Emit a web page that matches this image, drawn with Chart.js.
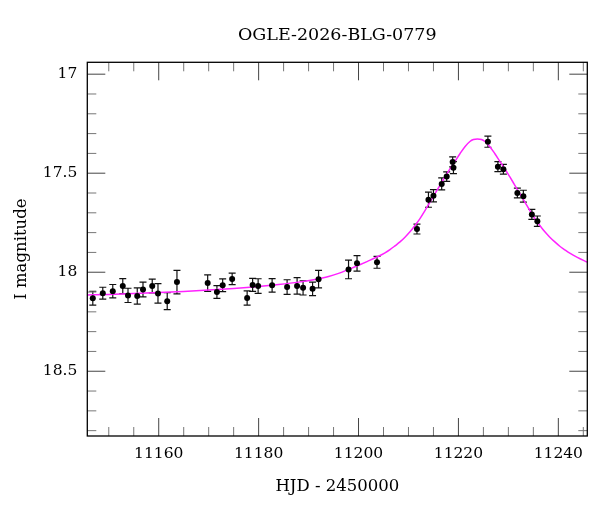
<!DOCTYPE html>
<html>
<head>
<meta charset="utf-8">
<script src="https://cdn.jsdelivr.net/npm/chart.js@4.4.1/dist/chart.umd.min.js"></script>
<style>
  html, body { margin: 0; padding: 0; background: #ffffff; }
  #wrap { width: 600px; height: 512px; }
</style>
</head>
<body>
<div id="wrap"><canvas id="c" width="600" height="512"></canvas></div>
<script>
// ---- Data ----
const titleText = "OGLE-2026-BLG-0779";
const xTitle = "HJD - 2450000";
const yTitle = "I magnitude";

const hjd = [11146.8, 11148.8, 11150.8, 11152.8, 11153.85, 11155.7, 11156.85, 11158.7, 11159.85, 11161.7,
             11163.65, 11169.8, 11171.65, 11172.8, 11174.7, 11177.7, 11178.8, 11179.9, 11182.7, 11185.7,
             11187.7, 11188.9, 11190.8, 11192.0, 11198.0, 11199.7, 11203.7, 11211.7, 11214.0, 11215.0,
             11216.65, 11217.65, 11218.85, 11219.0, 11225.9, 11227.9, 11229.0, 11231.8, 11233.0, 11234.7,
             11235.8];
const mag = [18.131, 18.106, 18.096, 18.070, 18.117, 18.120, 18.087, 18.070, 18.107, 18.146,
             18.050, 18.055, 18.100, 18.066, 18.034, 18.130, 18.064, 18.070, 18.066, 18.075,
             18.069, 18.079, 18.084, 18.035, 17.986, 17.955, 17.950, 17.782, 17.634, 17.614,
             17.554, 17.517, 17.443, 17.472, 17.341, 17.467, 17.480, 17.600, 17.616, 17.708,
             17.742];
const magErr = [0.035, 0.030, 0.034, 0.038, 0.036, 0.041, 0.037, 0.035, 0.049, 0.043,
                0.059, 0.042, 0.032, 0.032, 0.029, 0.036, 0.033, 0.037, 0.034, 0.037,
                0.042, 0.036, 0.034, 0.044, 0.047, 0.039, 0.030, 0.025, 0.038, 0.031,
                0.030, 0.024, 0.025, 0.030, 0.028, 0.025, 0.025, 0.025, 0.030, 0.025,
                0.026];

// model curve
const modelT = [11145.7, 11150, 11155, 11160, 11165, 11170, 11175, 11180, 11184, 11188,
                11191, 11194, 11196, 11197.8, 11199.8, 11201.8, 11203.8, 11205.3, 11206.3, 11207.3,
                11208.3, 11209.3, 11210.3, 11211.3, 11212.3, 11213.3, 11214.3, 11215.3, 11216.3, 11217.3,
                11218.3, 11219.3, 11220.3, 11221.3, 11222.3, 11223.0, 11223.8, 11224.6, 11225.3, 11226.3,
                11227.3, 11228.3, 11229.3, 11230.3, 11231.3, 11232.3, 11233.3, 11234.3, 11235.3, 11236.3,
                11237.3, 11238.3, 11239.3, 11240.3, 11241.3, 11242.3, 11243.8, 11245.8];
const modelMag = [18.115, 18.112, 18.108, 18.103, 18.097, 18.090, 18.082, 18.072, 18.062, 18.050,
                  18.038, 18.022, 18.006, 17.988, 17.967, 17.945, 17.922, 17.902, 17.886, 17.867,
                  17.847, 17.823, 17.796, 17.764, 17.729, 17.689, 17.646, 17.603, 17.561, 17.519,
                  17.478, 17.440, 17.402, 17.366, 17.340, 17.330, 17.327, 17.330, 17.340, 17.366,
                  17.402, 17.440, 17.478, 17.519, 17.561, 17.603, 17.646, 17.689, 17.729, 17.764,
                  17.796, 17.823, 17.847, 17.869, 17.887, 17.904, 17.925, 17.949];

const xMajorTicks = [11160, 11180, 11200, 11220, 11240];
const xMinorTicks = [11150, 11155, 11165, 11170, 11175, 11185, 11190, 11195, 11205, 11210, 11215, 11225, 11230, 11235, 11245];
const yMajorTicks = [17, 17.5, 18, 18.5];
const yMinorTicks = [17.1, 17.2, 17.3, 17.4, 17.6, 17.7, 17.8, 17.9, 18.1, 18.2, 18.3, 18.4, 18.6, 18.7, 18.8];

const xRange = [11145.7, 11245.8];
const yRange = [16.94, 18.827];

const FONT = "'DejaVu Serif', serif";

// ---- plugins ----
const frameTicks = {
  id: 'frameTicks',
  afterDraw(chart) {
    const {ctx, chartArea: a, scales: {x, y}} = chart;
    ctx.save();
    const major = 18, minor = 9;
    ctx.lineWidth = 1;
    ctx.strokeStyle = '#444';
    ctx.beginPath();
    xMajorTicks.forEach(v => {
      const px = x.getPixelForValue(v);
      ctx.moveTo(px, a.bottom); ctx.lineTo(px, a.bottom - major);
      ctx.moveTo(px, a.top); ctx.lineTo(px, a.top + major);
    });
    yMajorTicks.forEach(v => {
      const py = y.getPixelForValue(v);
      ctx.moveTo(a.left, py); ctx.lineTo(a.left + major, py);
      ctx.moveTo(a.right, py); ctx.lineTo(a.right - major, py);
    });
    ctx.stroke();
    ctx.strokeStyle = '#777';
    ctx.beginPath();
    xMinorTicks.forEach(v => {
      const px = x.getPixelForValue(v);
      ctx.moveTo(px, a.bottom); ctx.lineTo(px, a.bottom - minor);
      ctx.moveTo(px, a.top); ctx.lineTo(px, a.top + minor);
    });
    yMinorTicks.forEach(v => {
      const py = y.getPixelForValue(v);
      ctx.moveTo(a.left, py); ctx.lineTo(a.left + minor, py);
      ctx.moveTo(a.right, py); ctx.lineTo(a.right - minor, py);
    });
    ctx.stroke();
    ctx.strokeStyle = '#000';
    ctx.lineWidth = 1.3;
    ctx.strokeRect(a.left, a.top, a.right - a.left, a.bottom - a.top);
    // title centred over the plot area
    ctx.fillStyle = '#000';
    ctx.font = "17.5px " + FONT;
    ctx.textAlign = 'center';
    ctx.textBaseline = 'middle';
    ctx.fillText(titleText, (a.left + a.right) / 2, 35);
    ctx.restore();
  }
};

const errorBars = {
  id: 'errorBars',
  beforeDatasetsDraw(chart) {
    const {ctx, scales: {x, y}} = chart;
    ctx.save();
    ctx.strokeStyle = '#111';
    ctx.lineWidth = 1.2;
    ctx.beginPath();
    const cap = 3.5;
    hjd.forEach((t, i) => {
      const px = x.getPixelForValue(t);
      const p1 = y.getPixelForValue(mag[i] - magErr[i]);
      const p2 = y.getPixelForValue(mag[i] + magErr[i]);
      ctx.moveTo(px, p1); ctx.lineTo(px, p2);
      ctx.moveTo(px - cap, p1); ctx.lineTo(px + cap, p1);
      ctx.moveTo(px - cap, p2); ctx.lineTo(px + cap, p2);
    });
    ctx.stroke();
    ctx.restore();
  }
};

const obsData = hjd.map((t, i) => ({x: t, y: mag[i]}));
const modelData = modelT.map((t, i) => ({x: t, y: modelMag[i]}));

new Chart(document.getElementById('c'), {
  type: 'scatter',
  data: {
    datasets: [
      {
        label: 'OGLE I',
        data: obsData,
        order: 0,
        pointRadius: 3,
        pointHoverRadius: 3,
        pointBackgroundColor: '#000',
        pointBorderColor: '#000',
        pointBorderWidth: 0,
        showLine: false
      },
      {
        label: 'model',
        data: modelData,
        order: 1,
        showLine: true,
        pointRadius: 0,
        borderColor: '#ff22ff',
        borderWidth: 1.5,
        cubicInterpolationMode: 'monotone',
        fill: false
      }
    ]
  },
  options: {
    responsive: false,
    animation: false,
    devicePixelRatio: 1,
    layout: { padding: { left: 0, right: 12.7, top: 62.3, bottom: 0 } },
    plugins: {
      legend: { display: false },
      title: { display: false },
      tooltip: { enabled: false }
    },
    scales: {
      x: {
        type: 'linear',
        min: xRange[0], max: xRange[1],
        grid: { display: false, drawTicks: false },
        border: { display: false },
        afterBuildTicks: s => { s.ticks = xMajorTicks.map(v => ({value: v})); },
        afterFit: s => { s.height = 76; },
        ticks: {
          padding: 9,
          color: '#000',
          font: { family: FONT, size: 15.5 },
          callback: v => String(v),
          maxRotation: 0
        },
        title: {
          display: true, text: xTitle, color: '#000',
          font: { family: FONT, size: 16.5 },
          padding: { top: 0, bottom: 15 }
        }
      },
      y: {
        type: 'linear',
        reverse: true,
        min: yRange[0], max: yRange[1],
        grid: { display: false, drawTicks: false },
        border: { display: false },
        afterBuildTicks: s => { s.ticks = yMajorTicks.map(v => ({value: v})); },
        afterFit: s => { s.width = 87.3; },
        ticks: {
          padding: 10,
          color: '#000',
          font: { family: FONT, size: 15.5 },
          callback: v => String(v)
        },
        title: {
          display: true, text: yTitle, color: '#000',
          font: { family: FONT, size: 16.5 },
          padding: { top: 12, bottom: 0 }
        }
      }
    }
  },
  plugins: [errorBars, frameTicks]
});
</script>
</body>
</html>
